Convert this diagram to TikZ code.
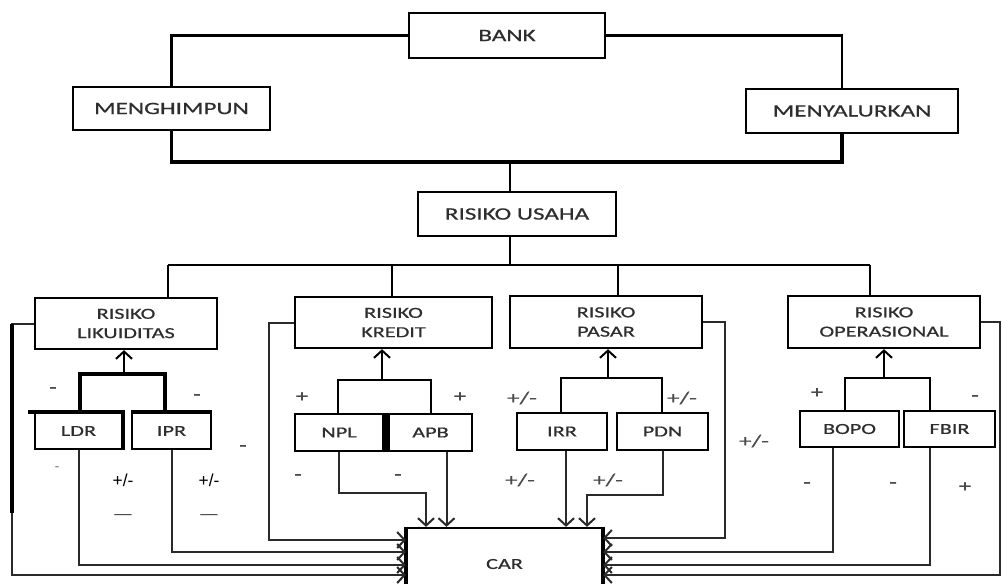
\documentclass[tikz,border=0pt]{standalone}
\usepackage{fontspec}
\usepackage{xcolor}
\usepackage{tikz}
\usetikzlibrary{arrows.meta, positioning, calc}
\newfontfamily\boxfont[FakeStretch=1.45, FakeBold=0.6]{Carlito}
\newfontfamily\signfont{Liberation Sans}
\definecolor{boxtext}{HTML}{2E2E2E}
\definecolor{signgray}{HTML}{4A4A4A}
\definecolor{linegray}{HTML}{2A2A2A}

\begin{document}
\begin{tikzpicture}[
    x=0.75pt, y=-0.75pt,
    box/.style={rectangle, draw=black, line width=1.7pt, fill=white, text=boxtext, align=center, inner sep=0pt, font=\boxfont\fontsize{11.5}{14.5}\selectfont},
    topbox/.style={box, font=\boxfont\fontsize{13}{15}\selectfont},
    link/.style={line width=1.7pt, draw=black},
    heavy/.style={line width=3pt, draw=black},
    arrow/.style={-{Straight Barb[length=5.5pt, width=12pt]}, line width=1.5pt, color=black},
    feed/.style={-{Straight Barb[length=5.5pt, width=12pt]}, line width=1.5pt, color=linegray},
    sign/.style={font=\boxfont\fontsize{13}{13}\selectfont, text=signgray},
    pm/.style={font=\signfont\fontsize{13}{13}\selectfont, text=black}
]
\clip (0,0) rectangle (1002,583);
\fill[white] (0,0) rectangle (1002,583);

% Bank and its two functions
\node[topbox, minimum width=147pt, minimum height=33.75pt] (bank) at (507,35.5) {BANK};
\node[topbox, minimum width=147.75pt, minimum height=32.25pt] (menghimpun) at (171.5,108.5) {MENGHIMPUN};
\node[topbox, minimum width=159pt, minimum height=33pt] (menyalurkan) at (852,111) {MENYALURKAN};
\node[topbox, minimum width=148.5pt, minimum height=33pt] (usaha) at (517,214) {RISIKO USAHA};

\draw[link] (bank.west) -| (menghimpun.north);
\draw[link] (bank.east) -| ([xshift=-7.5pt]menyalurkan.north);
\coordinate (join) at (510,162);
\draw[link, line width=2.4pt] (menghimpun.south) |- (join) -| ([xshift=-7.5pt]menyalurkan.south);
\draw[link] (join) -- (join |- usaha.north);

% Risk types
\node[box, minimum width=136.5pt, minimum height=38.25pt] (likuiditas) at (126,323.5) {RISIKO\\LIKUIDITAS};
\node[box, minimum width=147.75pt, minimum height=38.25pt] (kredit) at (393.5,322.5) {RISIKO\\KREDIT};
\node[box, minimum width=144pt, minimum height=39pt] (pasar) at (606,322) {RISIKO\\PASAR};
\node[box, minimum width=144pt, minimum height=39pt] (operasional) at (884,322) {RISIKO\\OPERASIONAL};

\coordinate (bus) at (510,265);
\coordinate (busa) at (168,265);
\coordinate (busb) at (392,265);
\coordinate (busc) at (618,265);
\coordinate (busd) at (870,265);
\draw[link] (usaha.south -| bus) -- (bus);
\draw[link] (busa) -- (busd);
\foreach \b/\n in {busa/likuiditas, busb/kredit, busc/pasar, busd/operasional}
    \draw[link] (\b) -- (\b |- \n.north);

% Ratios
\node[box, minimum width=65.25pt, minimum height=27pt] (ldr) at (78.5,431) {LDR};
\node[box, minimum width=59.25pt, minimum height=27pt] (ipr) at (171.5,431) {IPR};
\node[box, minimum width=66pt, minimum height=27.75pt] (npl) at (339,432.5) {NPL};
\node[box, minimum width=62.25pt, minimum height=27.75pt] (apb) at (430.5,432.5) {APB};
\node[box, minimum width=67.5pt, minimum height=27.75pt] (irr) at (562,431.5) {IRR};
\node[box, minimum width=68.25pt, minimum height=27.75pt] (pdn) at (662.5,431.5) {PDN};
\node[box, minimum width=74.25pt, minimum height=27pt] (bopo) at (849.5,429) {BOPO};
\node[box, minimum width=68.25pt, minimum height=27pt] (fbir) at (949.5,429) {FBIR};

\draw[heavy] ([xshift=-4.5pt]ldr.north west) -- (ldr.north east) -- (ldr.south east);
\draw[heavy] (ipr.north west) -- (ipr.north east);
\draw[heavy] (npl.north east) -- (npl.south east);
\draw[heavy] (apb.north west) -- (apb.south west);

% Forks up to the risk boxes
\coordinate (likfork) at (124,374);
\coordinate (likl) at (80,374);
\coordinate (likr) at (165,374);
\draw[link, line width=2.4pt] (likl |- ldr.north) -- (likl) -- (likr) -- (likr |- ipr.north);
\draw[arrow] (likfork) -- (likfork |- likuiditas.south);

\coordinate (krefork) at (382,380);
\coordinate (krel) at (338,380);
\coordinate (krer) at (431,380);
\draw[link] (krel |- npl.north) -- (krel) -- (krer) -- (krer |- apb.north);
\draw[arrow] (krefork) -- (krefork |- kredit.south);

\coordinate (pasfork) at (608,378);
\coordinate (pasl) at (561,378);
\coordinate (pasr) at (662,378);
\draw[link] (pasl |- irr.north) -- (pasl) -- (pasr) -- (pasr |- pdn.north);
\draw[arrow] (pasfork) -- (pasfork |- pasar.south);

\coordinate (opsfork) at (884,378);
\coordinate (opsl) at (845,378);
\coordinate (opsr) at (930,378);
\draw[link] (opsl |- bopo.north) -- (opsl) -- (opsr) -- (opsr |- fbir.north);
\draw[arrow] (opsfork) -- (opsfork |- operasional.south);

% CAR
\node[box, minimum width=146.25pt, minimum height=54pt] (car) at (504.5,564) {CAR};
\draw[heavy] (car.north west) -- (car.south west);
\draw[heavy] (car.north east) -- (car.south east);

% Feeds into CAR, left side
\draw[feed] (likuiditas.west) -- ++(-16.5pt,0) |- ([yshift=-8.25pt]car.west);
\draw[heavy] ([xshift=-16.5pt]likuiditas.west) -- ++(0,-142pt);
\draw[feed] (ldr.south) |- ([yshift=-0.75pt]car.west);
\draw[feed] (ipr.south) |- ([yshift=9pt]car.west);
\draw[feed] (kredit.west) -- ++(-18.75pt,0) |- ([yshift=18pt]car.west);

% Feeds into CAR, top
\coordinate (nplbend) at (426,493);
\draw[feed] (npl.south) |- (nplbend) -- (nplbend |- car.north);
\draw[feed] ([xshift=12pt]apb.south) -- ([xshift=12pt]apb.south |- car.north);
\draw[feed] ([xshift=3pt]irr.south) -- ([xshift=3pt]irr.south |- car.north);
\coordinate (pdnbend) at (587,495);
\draw[feed] (pdn.south) |- (pdnbend) -- (pdnbend |- car.north);

% Feeds into CAR, right side
\draw[feed] (pasar.east) -- ++(16.5pt,0) |- ([yshift=19.5pt]car.east);
\draw[feed] ([xshift=-12.4pt]bopo.south) |- ([yshift=9pt]car.east);
\draw[feed] ([xshift=-14.6pt]fbir.south) |- ([yshift=-0.75pt]car.east);
\draw[feed] (operasional.east) -- ++(14.25pt,0) |- ([yshift=-8.25pt]car.east);

% Signs
\node[sign] (ldrup) at (53,390) {-};
\node[sign] (iprup) at (197,397) {-};
\node[sign] (likout) at (243,448) {-};
\node[sign, font=\boxfont\fontsize{7}{7}\selectfont] (likdot) at (57,468) {-};
\node[pm] (ldrcar) at (123,480) {+/-};
\node[pm] (iprcar) at (209,480) {+/-};
\node[pm, text=black!70] (ldrdash) at (123,517) {—};
\node[pm, text=black!70] (iprdash) at (209,517) {—};

\node[sign] (nplup) at (302,397) {+};
\node[sign] (apbup) at (460,397) {+};
\node[sign] (nplcar) at (298,477) {-};
\node[sign] (apbcar) at (398,477) {-};

\node[sign] (irrup) at (522,398) {+/-};
\node[sign] (pdnup) at (682,398) {+/-};
\node[sign] (irrcar) at (520,480) {+/-};
\node[sign] (pdncar) at (608,480) {+/-};
\node[sign] (pasout) at (754,441) {+/-};

\node[sign] (bopoup) at (817,393) {+};
\node[sign] (fbirup) at (975,398) {-};
\node[sign] (bopocar) at (807,485) {-};
\node[sign] (opsout) at (893,485) {-};
\node[sign] (fbircar) at (965,487) {+};

\end{tikzpicture}
\end{document}
